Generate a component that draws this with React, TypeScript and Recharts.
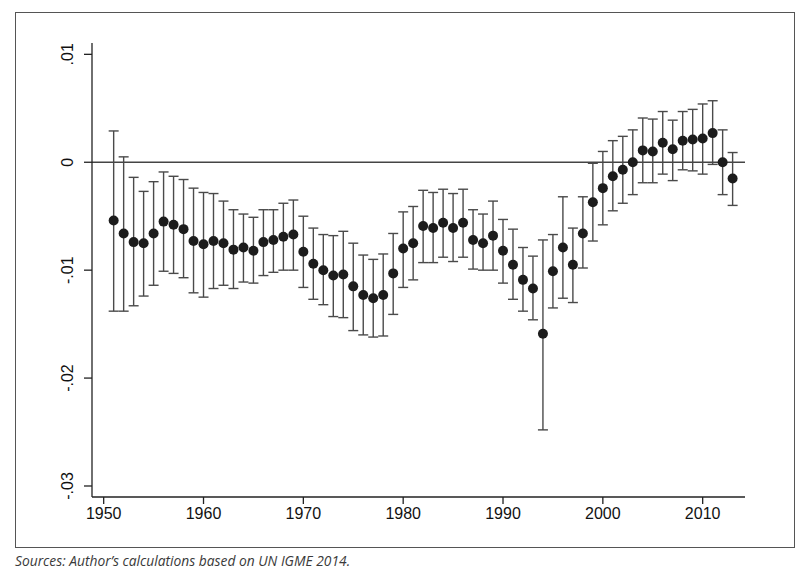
import React from 'react';
import { ScatterChart, Scatter, XAxis, YAxis, ErrorBar, ReferenceLine } from 'recharts';

const years = [
  1951, 1952, 1953, 1954, 1955, 1956, 1957, 1958, 1959, 1960,
  1961, 1962, 1963, 1964, 1965, 1966, 1967, 1968, 1969, 1970,
  1971, 1972, 1973, 1974, 1975, 1976, 1977, 1978, 1979, 1980,
  1981, 1982, 1983, 1984, 1985, 1986, 1987, 1988, 1989, 1990,
  1991, 1992, 1993, 1994, 1995, 1996, 1997, 1998, 1999, 2000,
  2001, 2002, 2003, 2004, 2005, 2006, 2007, 2008, 2009, 2010,
  2011, 2012, 2013,
];

const estimates = [
  -0.0054, -0.0066, -0.0074, -0.0075, -0.0066, -0.0055, -0.0058, -0.0062, -0.0073, -0.0076,
  -0.0073, -0.0075, -0.0081, -0.0079, -0.0082, -0.0074, -0.0072, -0.0069, -0.0067, -0.0083,
  -0.0094, -0.0100, -0.0105, -0.0104, -0.0115, -0.0123, -0.0126, -0.0123, -0.0103, -0.0080,
  -0.0075, -0.0059, -0.0061, -0.0056, -0.0061, -0.0056, -0.0072, -0.0075, -0.0068, -0.0082,
  -0.0095, -0.0109, -0.0117, -0.0159, -0.0101, -0.0079, -0.0095, -0.0066, -0.0037, -0.0024,
  -0.0013, -0.0007, 0.0000, 0.0011, 0.0010, 0.0018, 0.0012, 0.0020, 0.0021, 0.0022,
  0.0027, 0.0000, -0.0015,
];

const lower = [
  -0.0138, -0.0138, -0.0133, -0.0124, -0.0114, -0.0101, -0.0103, -0.0107, -0.0121, -0.0125,
  -0.0117, -0.0114, -0.0117, -0.0111, -0.0112, -0.0105, -0.0102, -0.0100, -0.0100, -0.0116,
  -0.0127, -0.0132, -0.0143, -0.0144, -0.0156, -0.0160, -0.0162, -0.0161, -0.0141, -0.0116,
  -0.0109, -0.0093, -0.0093, -0.0088, -0.0092, -0.0088, -0.0099, -0.0100, -0.0100, -0.0112,
  -0.0127, -0.0138, -0.0146, -0.0248, -0.0135, -0.0126, -0.0130, -0.0098, -0.0073, -0.0058,
  -0.0045, -0.0038, -0.0030, -0.0019, -0.0019, -0.0011, -0.0017, -0.0007, -0.0008, -0.0011,
  -0.0002, -0.0030, -0.0040,
];

const upper = [
  0.0029, 0.0005, -0.0014, -0.0027, -0.0018, -0.0009, -0.0013, -0.0016, -0.0024, -0.0028,
  -0.0029, -0.0036, -0.0044, -0.0048, -0.0051, -0.0044, -0.0044, -0.0038, -0.0035, -0.0050,
  -0.0061, -0.0067, -0.0068, -0.0064, -0.0075, -0.0086, -0.0090, -0.0085, -0.0066, -0.0046,
  -0.0041, -0.0026, -0.0028, -0.0025, -0.0029, -0.0025, -0.0044, -0.0048, -0.0036, -0.0053,
  -0.0062, -0.0079, -0.0087, -0.0072, -0.0067, -0.0032, -0.0061, -0.0032, -0.0001, 0.0010,
  0.0020, 0.0024, 0.0030, 0.0041, 0.0040, 0.0047, 0.0039, 0.0047, 0.0049, 0.0054,
  0.0057, 0.0030, 0.0009,
];

const xTicks = [1950, 1960, 1970, 1980, 1990, 2000, 2010];
const yTicks = [0.01, 0, -0.01, -0.02, -0.03];
const yTickLabels = ['.01', '0', '-.01', '-.02', '-.03'];
const sourceNote = 'Sources: Author’s calculations based on UN IGME 2014.';

const data = years.map((year, i) => ({
  year,
  value: estimates[i],
  err: [estimates[i] - lower[i], upper[i] - estimates[i]],
}));

const AXIS_FONT = '"Liberation Sans", Arial, sans-serif';

const YTick = ({ x, y, payload }: any) => {
  const idx = yTicks.indexOf(payload.value);
  const label = idx >= 0 ? yTickLabels[idx] : String(payload.value);
  return (
    <text
      x={x}
      y={y}
      transform={`rotate(-90, ${x}, ${y})`}
      textAnchor="middle"
      dominantBaseline="central"
      fontFamily={AXIS_FONT}
      fontSize={16}
      fill="#111"
    >
      {label}
    </text>
  );
};

const XTick = ({ x, y, payload }: any) => (
  <text x={x} y={y + 13} textAnchor="middle" fontFamily={AXIS_FONT} fontSize={16} fill="#111">
    {payload.value}
  </text>
);

const Dot = ({ cx, cy }: any) => <circle cx={cx} cy={cy} r={5} fill="#1c1c1c" />;

export default function App() {
  return (
    <div style={{ position: 'absolute', left: 0, top: 0, width: 807, height: 582, background: '#fff' }}>
      <div
        style={{
          position: 'absolute',
          left: 15,
          top: 12,
          width: 780,
          height: 536,
          border: '1.5px solid #555',
          boxSizing: 'border-box',
        }}
      />
      <div style={{ position: 'absolute', left: 0, top: 0 }}>
        <ScatterChart width={807} height={582} margin={{ top: 43, right: 62, bottom: 55, left: 42 }}>
          <XAxis
            type="number"
            dataKey="year"
            domain={[1948.83, 2014.24]}
            ticks={xTicks}
            allowDataOverflow
            height={30}
            tickSize={7}
            tickMargin={2}
            stroke="#222"
            strokeWidth={1.3}
            tick={<XTick />}
          />
          <YAxis
            type="number"
            dataKey="value"
            domain={[-0.03102, 0.01105]}
            ticks={yTicks}
            allowDataOverflow
            width={50}
            tickSize={8}
            tickMargin={16}
            stroke="#222"
            strokeWidth={1.3}
            tick={<YTick />}
          />
          <ReferenceLine y={0} stroke="#444" strokeWidth={1.5} />
          <Scatter data={data} shape={<Dot />} isAnimationActive={false}>
            <ErrorBar dataKey="err" direction="y" width={5} stroke="#4a4a4a" strokeWidth={1.4} />
          </Scatter>
        </ScatterChart>
      </div>
      <div
        style={{
          position: 'absolute',
          left: 15,
          top: 551,
          fontFamily: '"Open Sans", sans-serif',
          fontStyle: 'italic',
          fontSize: 13.8,
          color: '#3a3a3a',
          whiteSpace: 'nowrap',
        }}
      >
        {sourceNote}
      </div>
    </div>
  );
}
